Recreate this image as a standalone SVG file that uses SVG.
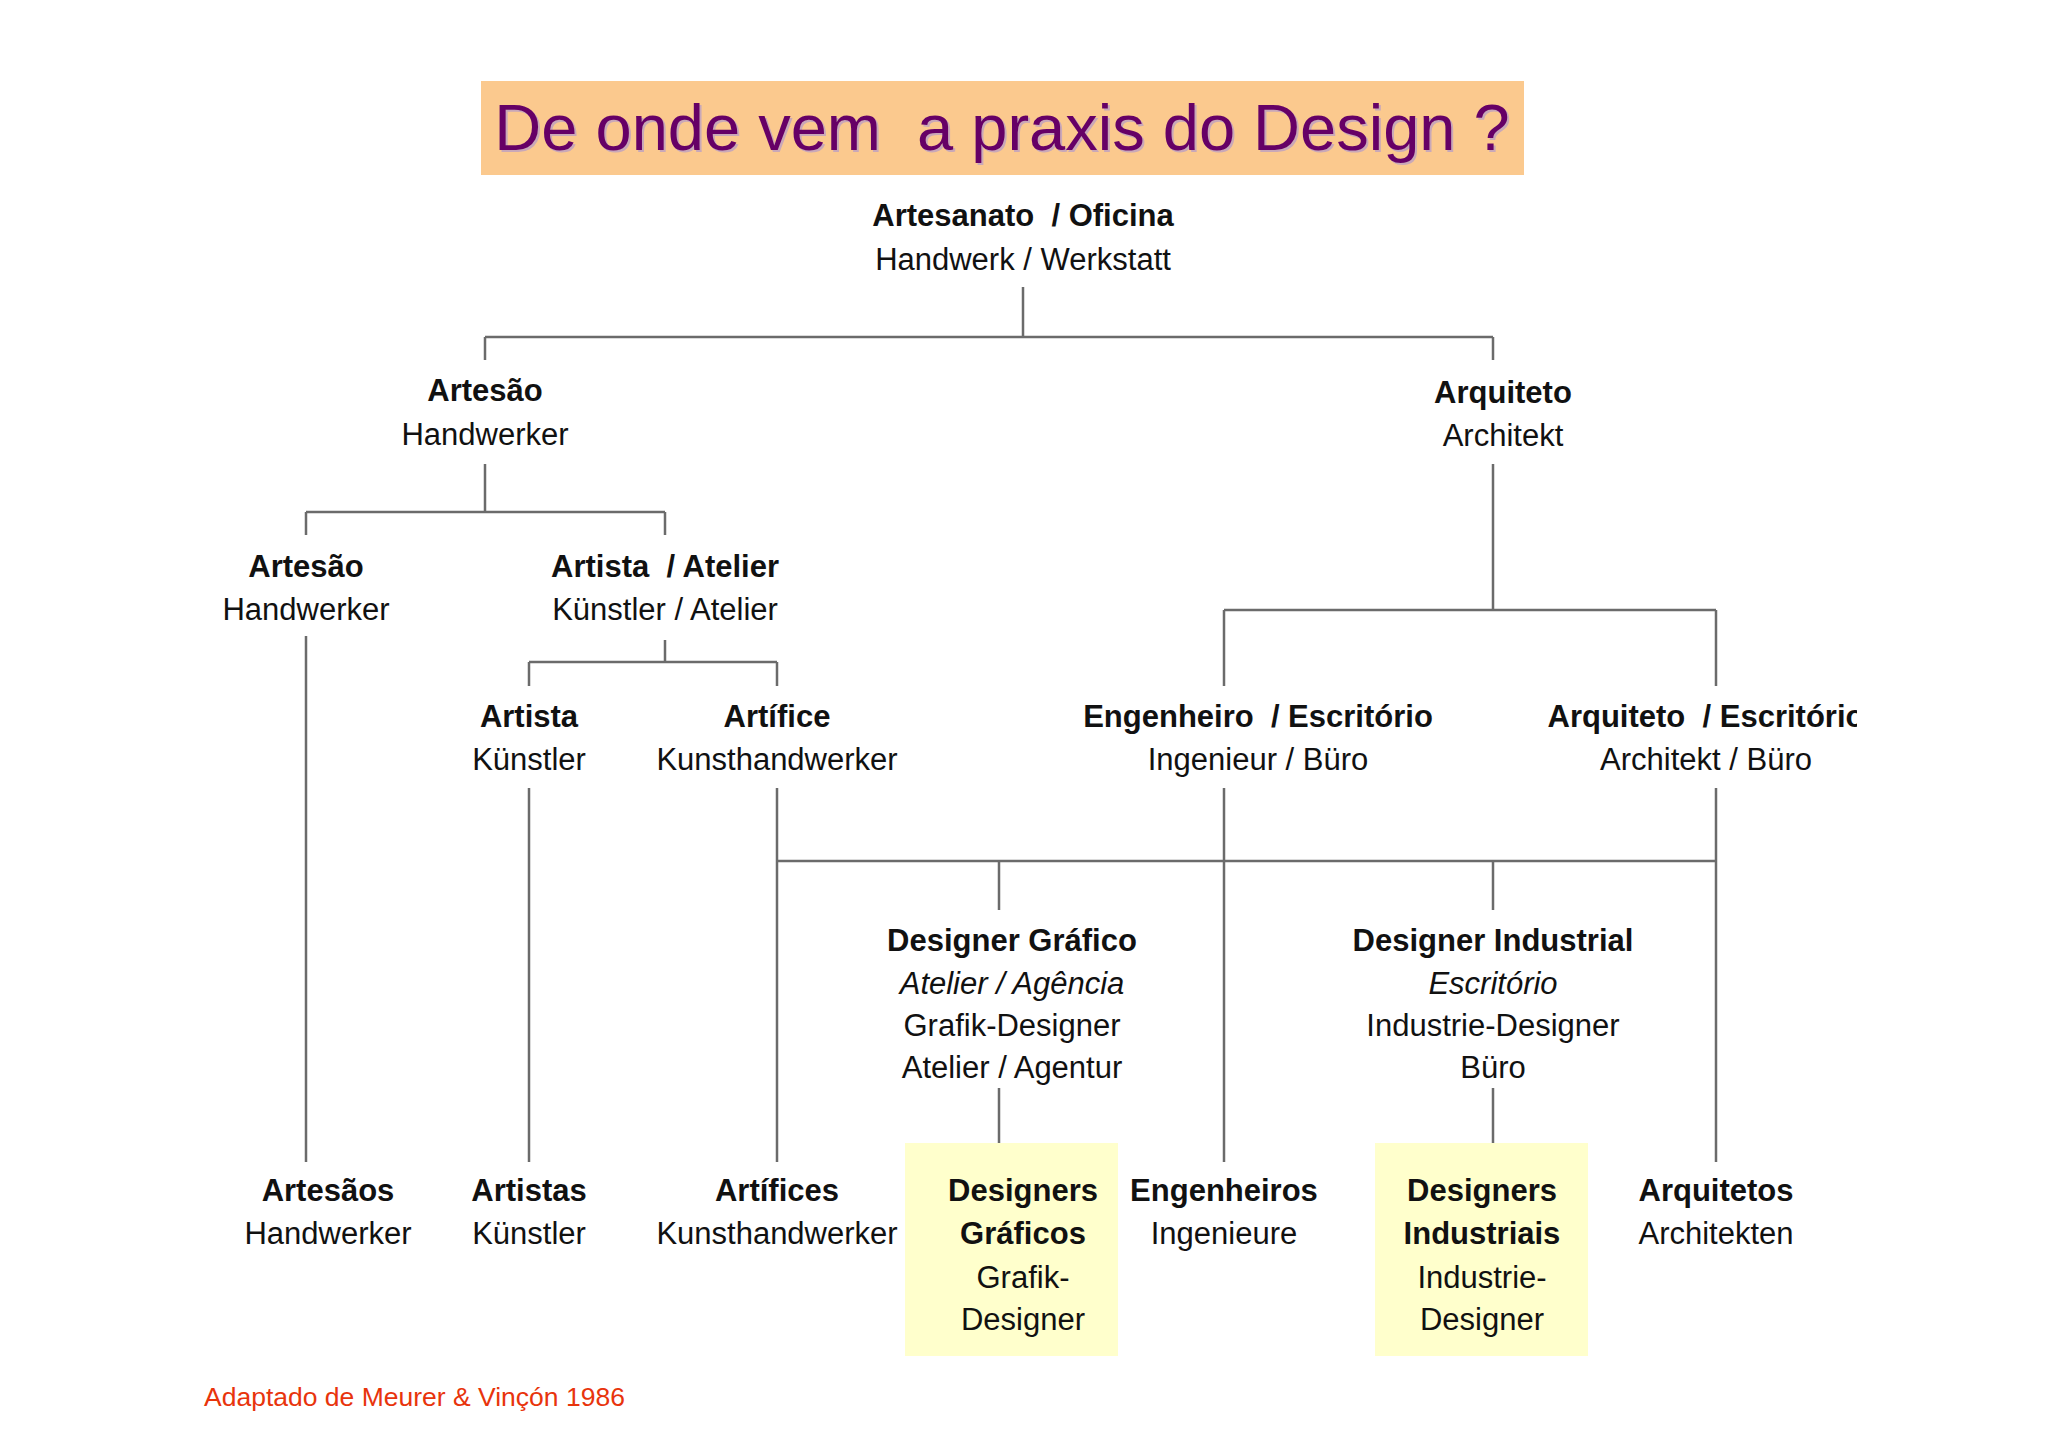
<svg xmlns="http://www.w3.org/2000/svg" width="2048" height="1447" viewBox="0 0 2048 1447" xml:space="preserve">
<style>
text{font-family:"Liberation Sans",Arial,sans-serif;font-size:31px;fill:#111;text-anchor:middle;white-space:pre}
.b{font-weight:bold}
.i{font-style:italic}
.c line{stroke:#6b6b6b;stroke-width:2.5}
</style>
<defs><clipPath id="cl"><rect x="0" y="0" width="1857" height="1447"/></clipPath></defs>
<rect width="2048" height="1447" fill="#fff"/>
<g id="title">
<rect x="481" y="81" width="1043" height="94" fill="#FBC98E"/>
<text x="1004" y="152" style="font-size:65px;fill:#c9a8b8">De onde vem  a praxis do Design ?</text>
<text x="1002" y="150" style="font-size:65px;fill:#660066">De onde vem  a praxis do Design ?</text>
</g>
<g class="c" id="connectors">
<line x1="1023" y1="287" x2="1023" y2="337"/><line x1="485" y1="337" x2="1493" y2="337"/>
<line x1="485" y1="337" x2="485" y2="360"/><line x1="1493" y1="337" x2="1493" y2="360"/>
<line x1="485" y1="464" x2="485" y2="512"/><line x1="306" y1="512" x2="665" y2="512"/>
<line x1="306" y1="512" x2="306" y2="535"/><line x1="665" y1="512" x2="665" y2="535"/>
<line x1="665" y1="640" x2="665" y2="662"/><line x1="529" y1="662" x2="777" y2="662"/>
<line x1="529" y1="662" x2="529" y2="686"/><line x1="777" y1="662" x2="777" y2="686"/>
<line x1="1493" y1="464" x2="1493" y2="610"/><line x1="1224" y1="610" x2="1716" y2="610"/>
<line x1="1224" y1="610" x2="1224" y2="686"/><line x1="1716" y1="610" x2="1716" y2="686"/>
<line x1="777" y1="861" x2="1716" y2="861"/>
<line x1="999" y1="861" x2="999" y2="910"/><line x1="1493" y1="861" x2="1493" y2="910"/>
<line x1="306" y1="636" x2="306" y2="1162"/>
<line x1="529" y1="788" x2="529" y2="1162"/>
<line x1="777" y1="788" x2="777" y2="1162"/>
<line x1="1224" y1="788" x2="1224" y2="1162"/>
<line x1="1716" y1="788" x2="1716" y2="1162"/>
<line x1="999" y1="1088" x2="999" y2="1162"/>
<line x1="1493" y1="1088" x2="1493" y2="1162"/>
</g>
<g id="root"><text class="b" x="1023" y="226">Artesanato  / Oficina</text><text x="1023" y="270">Handwerk / Werkstatt</text></g>
<g id="artesao1"><text class="b" x="485" y="401">Artesão</text><text x="485" y="445">Handwerker</text></g>
<g id="arquiteto1"><text class="b" x="1503" y="403">Arquiteto</text><text x="1503" y="446">Architekt</text></g>
<g id="artesao2"><text class="b" x="306" y="577">Artesão</text><text x="306" y="620">Handwerker</text></g>
<g id="artista-atelier"><text class="b" x="665" y="577">Artista  / Atelier</text><text x="665" y="620">Künstler / Atelier</text></g>
<g id="artista"><text class="b" x="529" y="727">Artista</text><text x="529" y="770">Künstler</text></g>
<g id="artifice"><text class="b" x="777" y="727">Artífice</text><text x="777" y="770">Kunsthandwerker</text></g>
<g id="engenheiro"><text class="b" x="1258" y="727">Engenheiro  / Escritório</text><text x="1258" y="770">Ingenieur / Büro</text></g>
<g id="arquiteto-escritorio" clip-path="url(#cl)"><text class="b" x="1706" y="727">Arquiteto  / Escritório</text><text x="1706" y="770">Architekt / Büro</text></g>
<g id="designer-grafico"><text class="b" x="1012" y="951">Designer Gráfico</text><text class="i" x="1012" y="994">Atelier / Agência</text><text x="1012" y="1036">Grafik-Designer</text><text x="1012" y="1078">Atelier / Agentur</text></g>
<g id="designer-industrial"><text class="b" x="1493" y="951">Designer Industrial</text><text class="i" x="1493" y="994">Escritório</text><text x="1493" y="1036">Industrie-Designer</text><text x="1493" y="1078">Büro</text></g>
<g id="artesaos"><text class="b" x="328" y="1201">Artesãos</text><text x="328" y="1244">Handwerker</text></g>
<g id="artistas"><text class="b" x="529" y="1201">Artistas</text><text x="529" y="1244">Künstler</text></g>
<g id="artifices"><text class="b" x="777" y="1201">Artífices</text><text x="777" y="1244">Kunsthandwerker</text></g>
<g id="designers-graficos"><rect x="905" y="1143" width="213" height="213" fill="#FFFFCC"/><text class="b" x="1023" y="1201">Designers</text><text class="b" x="1023" y="1244">Gráficos</text><text x="1023" y="1288">Grafik-</text><text x="1023" y="1330">Designer</text></g>
<g id="engenheiros"><text class="b" x="1224" y="1201">Engenheiros</text><text x="1224" y="1244">Ingenieure</text></g>
<g id="designers-industriais"><rect x="1375" y="1143" width="213" height="213" fill="#FFFFCC"/><text class="b" x="1482" y="1201">Designers</text><text class="b" x="1482" y="1244">Industriais</text><text x="1482" y="1288">Industrie-</text><text x="1482" y="1330">Designer</text></g>
<g id="arquitetos"><text class="b" x="1716" y="1201">Arquitetos</text><text x="1716" y="1244">Architekten</text></g>
<text x="204" y="1406" style="font-size:26.5px;fill:#e8340c;text-anchor:start">Adaptado de Meurer &amp; Vinçón 1986</text>
</svg>
